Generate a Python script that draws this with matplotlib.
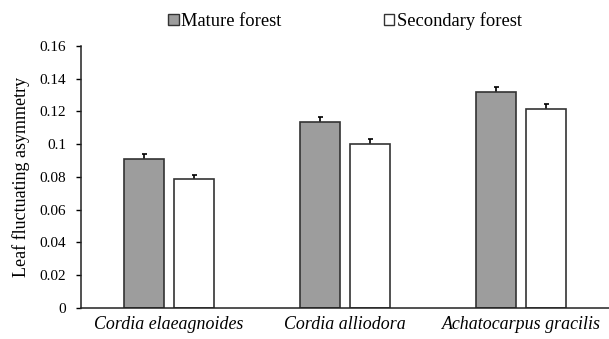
import matplotlib
matplotlib.use("Agg")
import matplotlib.pyplot as plt
from matplotlib.patches import Patch
import numpy as np

species = ["Cordia elaeagnoides", "Cordia alliodora", "Achatocarpus gracilis"]
mature = [0.0911, 0.1134, 0.1317]
mature_err = [0.0028, 0.0034, 0.0034]
secondary = [0.0789, 0.1003, 0.1213]
secondary_err = [0.0025, 0.0030, 0.0034]
series_labels = ["Mature forest", "Secondary forest"]
yticks = [0, 0.02, 0.04, 0.06, 0.08, 0.1, 0.12, 0.14, 0.16]
ytick_labels = ["0", "0.02", "0.04", "0.06", "0.08", "0.1", "0.12", "0.14", "0.16"]

plt.rcParams['font.family'] = ['Liberation Serif', 'DejaVu Serif']

fig = plt.figure(figsize=(6.09, 3.39), dpi=100)
ax = fig.add_axes([81/609, 31.3/339, 528/609, 261.7/339])

x = np.arange(len(species))
w = 0.226
off = 0.144
edge = '#333333'
ax.bar(x - off, mature, w, color='#9d9d9d', edgecolor=edge, linewidth=1.2, zorder=2)
ax.bar(x + off, secondary, w, color='white', edgecolor=edge, linewidth=1.2, zorder=2)
ax.errorbar(x - off, mature, yerr=mature_err, fmt='none',
            ecolor='black', elinewidth=1.2, capsize=1.8, capthick=1.2, zorder=1)
ax.errorbar(x + off, secondary, yerr=secondary_err, fmt='none',
            ecolor='black', elinewidth=1.2, capsize=1.8, capthick=1.2, zorder=1)

ax.set_xlim(-0.5, 2.5)
ax.set_ylim(0, 0.16)
ax.set_yticks(yticks)
ax.set_yticklabels(ytick_labels, fontsize=11)
ax.set_xticks(x)
ax.set_xticklabels(species, fontsize=12.9, style='italic')
ax.tick_params(axis='x', length=0, pad=6)
ax.tick_params(axis='y', direction='out', length=3.6, width=1, pad=7, colors='black')
for s in ['top', 'right']:
    ax.spines[s].set_visible(False)
for s in ['left', 'bottom']:
    ax.spines[s].set_linewidth(1.1)
    ax.spines[s].set_color('#222222')
ax.set_ylabel("Leaf fluctuating asymmetry", fontsize=13, labelpad=7)

handles = [Patch(facecolor='#9d9d9d', edgecolor=edge, linewidth=1.0),
           Patch(facecolor='white', edgecolor=edge, linewidth=1.0)]
fig.legend(handles, series_labels, loc='center', bbox_to_anchor=(345/609, 1 - 21/339),
           ncol=2, frameon=False, fontsize=13.3, handlelength=0.55, handleheight=0.55,
           handletextpad=0.15, columnspacing=5.52, borderaxespad=0)

fig.savefig("out.png", dpi=100)
